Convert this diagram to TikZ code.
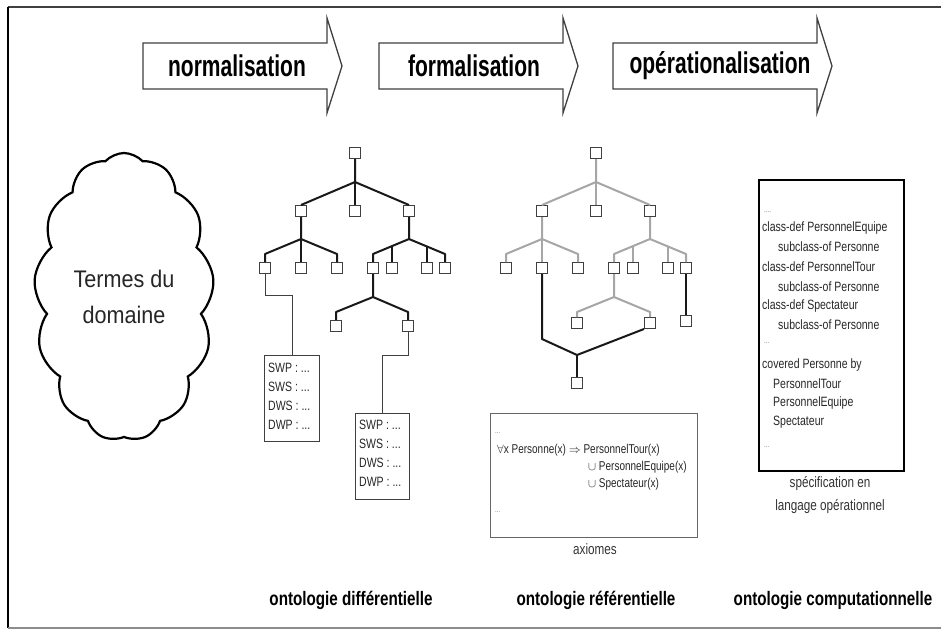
\documentclass[tikz,border=0pt]{standalone}
\usepackage{fontspec}
\setmainfont{Liberation Sans}
\newfontfamily\arrowfont[FakeStretch=0.7]{Liberation Sans}
\newfontfamily\capfont[FakeStretch=0.78]{Liberation Sans}
\newfontfamily\smallfont[FakeStretch=0.78]{Liberation Sans}
\newfontfamily\cloudfont[FakeStretch=0.9]{Liberation Sans}
\usetikzlibrary{shapes.symbols,calc}
\begin{document}
\begin{tikzpicture}[x=1pt,y=-1pt,
  box/.style={draw=black!75, line width=1pt, fill=white, minimum size=11pt, inner sep=0pt, rectangle},
  tk/.style={line width=2pt, black!90, line join=round},
  gl/.style={line width=2pt, black!35, line join=round},
  th/.style={line width=1pt, black!75},
  arrowshape/.style={draw=black!75, line width=1.3pt, fill=white, line join=miter},
  phase/.style={font=\arrowfont\bfseries\fontsize{30}{36}\selectfont, inner sep=0pt},
  ontocap/.style={font=\capfont\bfseries\fontsize{19.5}{24}\selectfont, inner sep=0pt},
  tx/.style={font=\smallfont\fontsize{13.5}{16}\selectfont, anchor=west, inner sep=0pt, text=black!85},
  axt/.style={font=\smallfont\fontsize{12.8}{15}\selectfont, anchor=west, inner sep=0pt, text=black!85},
  sub/.style={font=\smallfont\fontsize{15}{18}\selectfont, inner sep=0pt, text=black!80},
  dots/.style={font=\smallfont\fontsize{8}{9}\selectfont, anchor=west, inner sep=0pt, text=black!50},
]
\useasboundingbox (0,0) rectangle (941,630);
% frame
\draw[black!75, line width=1.5pt] (941,7) -- (8,7);
\draw[black, line width=1.5pt] (8,7) -- (8,628);
\draw[black!45, line width=1.5pt] (8,628) -- (941,628);

% phase arrows
\draw[arrowshape] (143,43) -- (327,43) -- (327,18) -- (342,66) -- (327,113) -- (327,89) -- (143,89) -- cycle;
\node[phase] (p1) at (237,66) {normalisation};
\draw[arrowshape] (379,43) -- (563,43) -- (563,18) -- (578,66) -- (563,113) -- (563,89) -- (379,89) -- cycle;
\node[phase] (p2) at (474,66) {formalisation};
\draw[arrowshape] (613,43) -- (817,43) -- (817,18) -- (832,66) -- (817,113) -- (817,89) -- (613,89) -- cycle;
\node[phase] (p3) at (720,66) {opérationalisation};

% cloud
\node[cloud, cloud puffs=13, cloud puff arc=95, cloud ignores aspect, draw=black, line width=2.2pt,
      minimum width=180pt, minimum height=288pt, align=center,
      font=\cloudfont\fontsize{24}{36}\selectfont, text=black!85] (cloud) at (124,297) {Termes du\\domaine};

% ---------------- tree 1 ----------------
\node[box] (a0) at (355,153) {};
\node[box] (a1) at (301,211) {};
\node[box] (a2) at (355,211) {};
\node[box] (a3) at (409,211) {};
\node[box] (a11) at (265,268) {};
\node[box] (a12) at (301,268) {};
\node[box] (a13) at (337,268) {};
\node[box] (a31) at (373,268) {};
\node[box] (a32) at (392,268) {};
\node[box] (a33) at (427,268) {};
\node[box] (a34) at (445,268) {};
\node[box] (a311) at (336,326) {};
\node[box] (a312) at (408,326) {};
\coordinate (ja0) at (355,182);
\coordinate (ja1) at (301,239);
\coordinate (ba11) at (265,254);
\coordinate (ba13) at (337,254);
\coordinate (ja3) at (409,239);
\coordinate (ba31) at (373,254);
\coordinate (ba34) at (445,254);
\coordinate (ba32) at (392,246.1);
\coordinate (ba33) at (427,246.5);
\coordinate (ja31) at (373,297);
\coordinate (ba311) at (336,312);
\coordinate (ba312) at (408,312);
\draw[tk] (a0.south) -- (ja0) -- (a1.north);
\draw[tk] (ja0) -- (a2.north);
\draw[tk] (ja0) -- (a3.north);
\draw[tk] (a1.south) -- (ja1) -- (ba11) -- (a11.north);
\draw[tk] (ja1) -- (a12.north);
\draw[tk] (ja1) -- (ba13) -- (a13.north);
\draw[tk] (a3.south) -- (ja3) -- (ba31) -- (a31.north);
\draw[tk] (ja3) -- (ba34) -- (a34.north);
\draw[tk] (ba32) -- (a32.north);
\draw[tk] (ba33) -- (a33.north);
\draw[tk] (a31.south) -- (ja31) -- (ba311) -- (a311.north);
\draw[tk] (ja31) -- (ba312) -- (a312.north);

% tables
\node[draw=black!75, line width=1pt, minimum width=55pt, minimum height=86pt, inner sep=0pt, anchor=north west] (t1) at (264,355) {};
\node[draw=black!75, line width=1pt, minimum width=54pt, minimum height=86pt, inner sep=0pt, anchor=north west] (t2) at (355,413) {};
\coordinate (c1) at (265,295);
\coordinate (c2) at (292,295);
\coordinate (c3) at (408,355);
\coordinate (c4) at (382,355);
\draw[th] (a11.south) -- (c1) -- (c2) -- (c2 |- t1.north);
\draw[th] (a312.south) -- (c3) -- (c4) -- (c4 |- t2.north);
\node[tx] (t1a) at (268,368) {SWP : ...};
\node[tx] (t1b) at (268,387) {SWS : ...};
\node[tx] (t1c) at (268,406) {DWS : ...};
\node[tx] (t1d) at (268,425) {DWP : ...};
\node[tx] (t2a) at (359,425) {SWP : ...};
\node[tx] (t2b) at (359,444) {SWS : ...};
\node[tx] (t2c) at (359,463) {DWS : ...};
\node[tx] (t2d) at (359,482) {DWP : ...};

% ---------------- tree 2 ----------------
\node[box] (b0) at (596,153) {};
\node[box] (b1) at (542,211) {};
\node[box] (b2) at (596,211) {};
\node[box] (b3) at (650,211) {};
\node[box] (b11) at (506,268) {};
\node[box] (b12) at (542,268) {};
\node[box] (b13) at (578,268) {};
\node[box] (b31) at (614,268) {};
\node[box] (b32) at (633,268) {};
\node[box] (b33) at (668,268) {};
\node[box] (b34) at (686,268) {};
\node[box] (b311) at (577,323) {};
\node[box] (b312) at (650,323) {};
\node[box] (b341) at (686,321) {};
\node[box] (b4) at (577,383) {};
\coordinate (jb0) at (596,182);
\coordinate (jb1) at (542,239);
\coordinate (bb11) at (506,254);
\coordinate (bb13) at (578,254);
\coordinate (jb3) at (650,239);
\coordinate (bb31) at (614,254);
\coordinate (bb34) at (686,254);
\coordinate (bb32) at (633,246.1);
\coordinate (bb33) at (668,246.5);
\coordinate (jb31) at (614,297);
\coordinate (bb311) at (577,312);
\coordinate (bb312) at (650,312);
\coordinate (kb) at (542,339);
\coordinate (jb4) at (577,355);
\draw[gl] (b0.south) -- (jb0) -- (b1.north);
\draw[gl] (jb0) -- (b2.north);
\draw[gl] (jb0) -- (b3.north);
\draw[gl] (b1.south) -- (jb1) -- (bb11) -- (b11.north);
\draw[gl] (jb1) -- (b12.north);
\draw[gl] (jb1) -- (bb13) -- (b13.north);
\draw[gl] (b3.south) -- (jb3) -- (bb31) -- (b31.north);
\draw[gl] (jb3) -- (bb34) -- (b34.north);
\draw[gl] (bb32) -- (b32.north);
\draw[gl] (bb33) -- (b33.north);
\draw[gl] (b31.south) -- (jb31) -- (bb311) -- (b311.north);
\draw[gl] (jb31) -- (bb312) -- (b312.north);
\draw[tk] (b34.south) -- (b341.north);
\draw[tk] (b12.south) -- (kb) -- (jb4) -- (b312.south west);
\draw[tk] (jb4) -- (b4.north);

% axiom box
\node[draw=black!60, line width=1.3pt, minimum width=207pt, minimum height=124pt, inner sep=0pt, anchor=north west] (ax) at (490,413) {};
\node[dots] (ax0) at (495,433) {...};
\node[axt] (ax1) at (497,450) {$\forall$x Personne(x) $\Rightarrow$ PersonnelTour(x)};
\node[axt] (ax2) at (588,467) {$\cup$ PersonnelEquipe(x)};
\node[axt] (ax3) at (588,484) {$\cup$ Spectateur(x)};
\node[dots] (ax4) at (495,512) {...};
\node[sub] (axc) at (595,549) {axiomes};

% operational box
\node[draw=black, line width=2pt, minimum width=145pt, minimum height=291pt, inner sep=0pt, anchor=north west] (op) at (758,179) {};
\node[dots] (op0) at (764,212) {....};
\node[tx] (op1) at (762,228) {class-def PersonnelEquipe};
\node[tx] (op2) at (778,247) {subclass-of Personne};
\node[tx] (op3) at (762,267) {class-def PersonnelTour};
\node[tx] (op4) at (778,287) {subclass-of Personne};
\node[tx] (op5) at (762,306) {class-def Spectateur};
\node[tx] (op6) at (778,325) {subclass-of Personne};
\node[dots] (op7) at (764,343) {...};
\node[tx] (op8) at (762,365) {covered Personne by};
\node[tx] (op9) at (773,384) {PersonnelTour};
\node[tx] (op10) at (773,403) {PersonnelEquipe};
\node[tx] (op11) at (773,422) {Spectateur};
\node[dots] (op12) at (764,447) {...};
\node[sub] (opc1) at (830,484) {spécification en};
\node[sub] (opc2) at (830,507) {langage opérationnel};

% bottom captions
\node[ontocap] (o1) at (351,600) {ontologie différentielle};
\node[ontocap] (o2) at (596,600) {ontologie référentielle};
\node[ontocap] (o3) at (833,600) {ontologie computationnelle};
\end{tikzpicture}
\end{document}
